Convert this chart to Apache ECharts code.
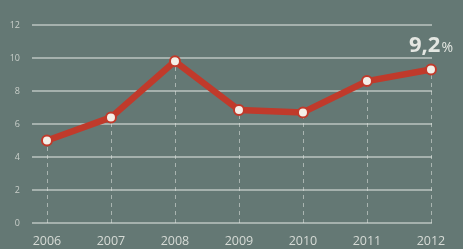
<!DOCTYPE html>
<html>
<head>
<meta charset="utf-8">
<script src="https://cdn.jsdelivr.net/npm/echarts@6.0.0/dist/echarts.min.js"></script>
<style>
  html, body { margin: 0; padding: 0; background: #647874; }
  #chart { width: 463px; height: 249px; }
</style>
</head>
<body>
<div id="chart"></div>
<script>
// data
const years = ['2006', '2007', '2008', '2009', '2010', '2011', '2012'];
const values = [5.0, 6.4, 9.8, 6.85, 6.7, 8.6, 9.3];
const yTicks = [0, 2, 4, 6, 8, 10, 12];
const lastLabel = ['9,2', '%'];

const chart = echarts.init(document.getElementById('chart'));

const pts = values.map((v, i) => [i, v]);
const lastIdx = values.length - 1;

// dashed drop lines from each point to the baseline
const dropLines = values.map((v, i) => [{ coord: [i, 0] }, { coord: [i, v] }]);

chart.setOption({
    backgroundColor: '#647874',
    animation: false,
    grid: { left: 32, right: 31, top: 25, bottom: 26 },
    xAxis: {
        type: 'value',
        min: -0.234,
        max: 6.016,
        axisLine: { show: false },
        axisTick: { show: false },
        splitLine: { show: false },
        axisLabel: {
            customValues: years.map((y, i) => i),
            formatter: v => years[Math.round(v)],
            color: '#d6dbd6',
            fontSize: 12.5,
            fontFamily: 'Open Sans',
            margin: 12
        }
    },
    yAxis: {
        type: 'value',
        min: 0,
        max: 12,
        interval: 2,
        axisLine: { show: false },
        axisTick: { show: false },
        axisLabel: {
            customValues: yTicks,
            color: '#c9cfca',
            fontSize: 9,
            fontFamily: 'Open Sans',
            margin: 12
        },
        splitLine: { lineStyle: { color: 'rgba(225,230,225,0.7)', width: 1.5 } }
    },
    series: [{
        type: 'line',
        data: pts.map((p, i) => i === lastIdx ? {
            value: p,
            label: {
                show: true,
                position: 'top',
                distance: 7,
                formatter: '{big|' + lastLabel[0] + '}{pct|' + lastLabel[1] + '}',
                rich: {
                    big: { fontSize: 22, fontWeight: 'bold', color: '#e4e7e2', fontFamily: 'Open Sans' },
                    pct: { fontSize: 14, color: '#e4e7e2', fontFamily: 'Open Sans', padding: [5, 0, 0, 1] }
                }
            }
        } : p),
        symbol: 'circle',
        symbolSize: 10,
        lineStyle: { color: '#c03a2b', width: 6.5 },
        itemStyle: { color: '#f4efe8', borderColor: '#c03a2b', borderWidth: 2 },
        z: 5,
        markLine: {
            silent: true,
            symbol: 'none',
            label: { show: false },
            lineStyle: { color: 'rgba(225,230,225,0.55)', type: [4, 4], width: 1 },
            data: dropLines,
            z: 1
        }
    }]
});
</script>
</body>
</html>
